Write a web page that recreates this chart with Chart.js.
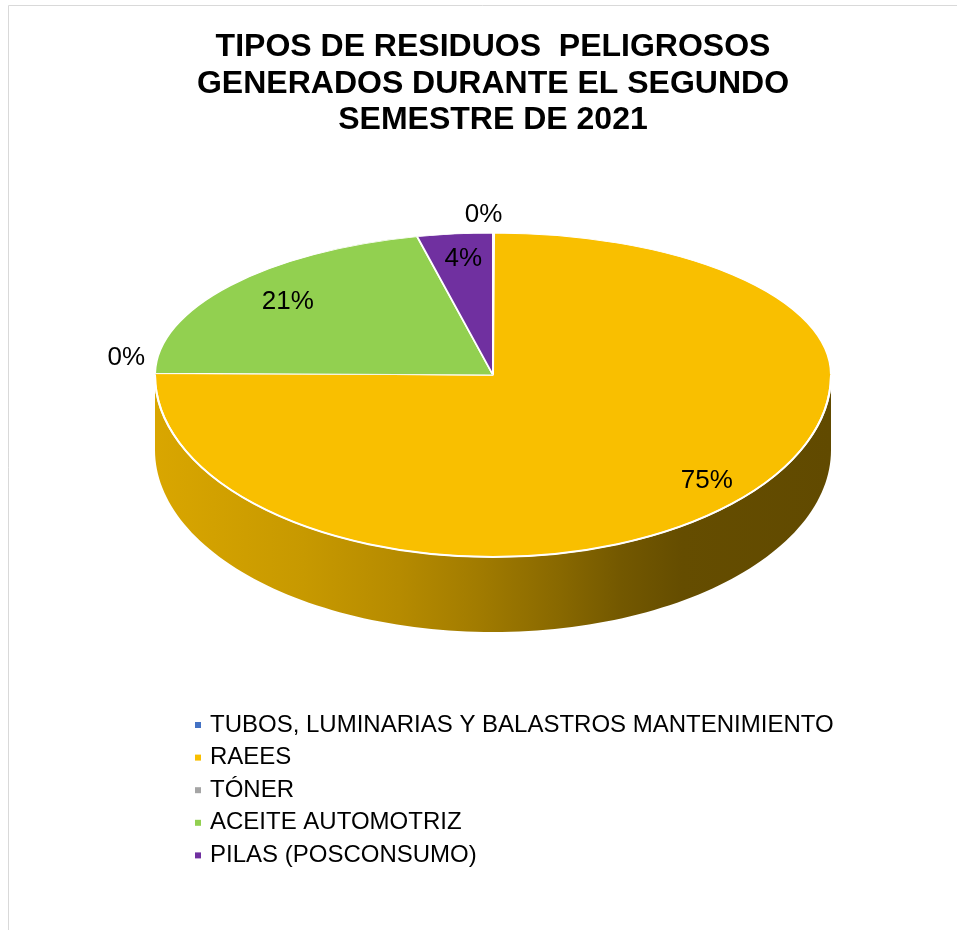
<!DOCTYPE html>
<html lang="es">
<head>
<meta charset="utf-8">
<title>Tipos de residuos peligrosos</title>
<script src="https://cdn.jsdelivr.net/npm/chart.js@4.4.1/dist/chart.umd.min.js"></script>
<style>
  html, body { margin: 0; padding: 0; background: #fff; }
</style>
</head>
<body>
<canvas id="residuosChart" width="957" height="930"></canvas>
<script>
// Datos (porcentaje de cada tipo de residuo)
const categorias = ['TUBOS, LUMINARIAS Y BALASTROS MANTENIMIENTO', 'RAEES', 'TÓNER', 'ACEITE AUTOMOTRIZ', 'PILAS (POSCONSUMO)'];
const porcentajes = [0.05, 75.1, 0.05, 21.2, 3.6];
const tituloLineas = ['TIPOS DE RESIDUOS  PELIGROSOS', 'GENERADOS DURANTE EL SEGUNDO', 'SEMESTRE DE 2021'];

const colores = ['#4472c4', '#f9bf00', '#a5a5a5', '#92d050', '#7030a0'];
const fuente = "'Liberation Sans', Arial, sans-serif";

// "3D": la cara superior se aplasta distinto arriba y abajo del centro (perspectiva)
const RADIO = 338, RY_ARRIBA = 142, RY_ABAJO = 182, PROFUNDIDAD = 75;

function sombra(hex, k) {
    const n = parseInt(hex.slice(1), 16);
    const r = Math.round(((n >> 16) & 255) * k), g = Math.round(((n >> 8) & 255) * k), b = Math.round((n & 255) * k);
    return 'rgb(' + r + ',' + g + ',' + b + ')';
}

function aplastar(ctx, cx, cy, k) {
    ctx.translate(cx, cy);
    ctx.scale(1, k);
    ctx.translate(-cx, -cy);
}

const pastel3D = {
    id: 'pastel3D',
    beforeDraw(chart) {
        // marco gris claro
        const ctx = chart.ctx;
        ctx.save();
        ctx.strokeStyle = '#d9d9d9';
        ctx.lineWidth = 1;
        ctx.beginPath();
        ctx.moveTo(8.5, chart.height);
        ctx.lineTo(8.5, 5.5);
        ctx.lineTo(chart.width, 5.5);
        ctx.stroke();
        ctx.restore();
    },
    beforeDatasetsDraw(chart) {
        const ctx = chart.ctx;
        const arcs = chart.getDatasetMeta(0).data;
        const cx = arcs[0].x, cy = arcs[0].y;

        // pared lateral (solo la mitad delantera se ve)
        arcs.forEach((arc, i) => {
            const a = Math.max(arc.startAngle, 0), b = Math.min(arc.endAngle, Math.PI);
            if (a >= b) return;
            const grad = ctx.createLinearGradient(cx - RADIO, 0, cx + RADIO, 0);
            [[0, 0.87], [0.22, 0.8], [0.36, 0.73], [0.48, 0.645], [0.6, 0.545], [0.69, 0.46], [0.78, 0.405], [1, 0.39]]
                .forEach(s => grad.addColorStop(s[0], sombra(colores[i], s[1])));
            ctx.save();
            ctx.beginPath();
            const pasos = 120;
            for (let k = 0; k <= pasos; k++) {
                const t = a + (b - a) * k / pasos;
                ctx.lineTo(cx + RADIO * Math.cos(t), cy + RY_ABAJO * Math.sin(t));
            }
            for (let k = pasos; k >= 0; k--) {
                const t = a + (b - a) * k / pasos;
                ctx.lineTo(cx + RADIO * Math.cos(t), cy + RY_ABAJO * Math.sin(t) + PROFUNDIDAD);
            }
            ctx.closePath();
            ctx.fillStyle = grad;
            ctx.fill();
            ctx.restore();
        });

        // mitad superior de la cara
        ctx.save();
        ctx.beginPath();
        ctx.rect(0, 0, chart.width, cy + 0.5);
        ctx.clip();
        aplastar(ctx, cx, cy, RY_ARRIBA / RADIO);
    },
    afterDatasetsDraw(chart) {
        const ctx = chart.ctx;
        ctx.restore();
        const arcs = chart.getDatasetMeta(0).data;
        const cx = arcs[0].x, cy = arcs[0].y;

        // mitad inferior de la cara
        ctx.save();
        ctx.beginPath();
        ctx.rect(0, cy - 0.5, chart.width, chart.height - cy);
        ctx.clip();
        aplastar(ctx, cx, cy, RY_ABAJO / RADIO);
        arcs.forEach(a => a.draw(ctx));
        ctx.restore();

        // borde blanco entre cara y pared
        ctx.save();
        ctx.strokeStyle = '#ffffff';
        ctx.lineWidth = 2;
        ctx.beginPath();
        ctx.ellipse(cx, cy, RADIO, RY_ABAJO, 0, 0, Math.PI);
        ctx.stroke();
        ctx.restore();
    },
    afterDraw(chart) {
        const ctx = chart.ctx;
        const meta = chart.getDatasetMeta(0);
        const total = porcentajes.reduce((s, v) => s + v, 0);

        // etiquetas de porcentaje
        ctx.save();
        ctx.font = '26px ' + fuente;
        ctx.fillStyle = '#000';
        ctx.textAlign = 'center';
        ctx.textBaseline = 'middle';
        meta.data.forEach((arc, i) => {
            const parte = porcentajes[i] / total;
            const medio = (arc.startAngle + arc.endAngle) / 2;
            const ux = Math.cos(medio), uy = Math.sin(medio);
            const ry = uy < 0 ? RY_ARRIBA : RY_ABAJO;
            const texto = Math.round(parte * 100) + '%';
            let x, y;
            if (parte >= 0.02) {
                const fx = uy < 0 ? 0.78 : 0.9;
                x = arc.x + ux * RADIO * fx;
                y = arc.y + uy * ry * 0.82;
            } else {
                const w = ctx.measureText(texto).width;
                x = arc.x + ux * RADIO + ux * (w / 2 + 10);
                y = arc.y + uy * ry + uy * 18;
                if (Math.abs(ux) > Math.abs(uy)) y -= 15; else x -= 10;
            }
            ctx.fillText(texto, x, y);
        });
        ctx.restore();

        // leyenda vertical
        ctx.save();
        ctx.font = '24px ' + fuente;
        ctx.textBaseline = 'middle';
        categorias.forEach((c, i) => {
            const y = 725 + i * 32.6;
            ctx.fillStyle = colores[i];
            ctx.fillRect(195, y - 3, 6, 6);
            ctx.fillStyle = '#000';
            ctx.fillText(c, 210, y);
        });
        ctx.restore();
    }
};

const ctx = document.getElementById('residuosChart').getContext('2d');

new Chart(ctx, {
    type: 'pie',
    data: {
        labels: categorias,
        datasets: [{
            data: porcentajes,
            backgroundColor: colores,
            borderColor: '#ffffff',
            borderWidth: 2,
            radius: RADIO,
            clip: false,
            hoverOffset: 0
        }]
    },
    options: {
        responsive: false,
        animation: false,
        events: [],
        layout: {
            padding: { left: 40, right: 11, top: 5, bottom: 328.44 }
        },
        plugins: {
            legend: { display: false },
            tooltip: { enabled: false },
            title: {
                display: true,
                text: tituloLineas,
                color: '#000',
                font: { family: fuente, size: 32, weight: 'bold', lineHeight: 1.14 },
                padding: { top: 24, bottom: 10 }
            }
        }
    },
    plugins: [pastel3D]
});
</script>
</body>
</html>
